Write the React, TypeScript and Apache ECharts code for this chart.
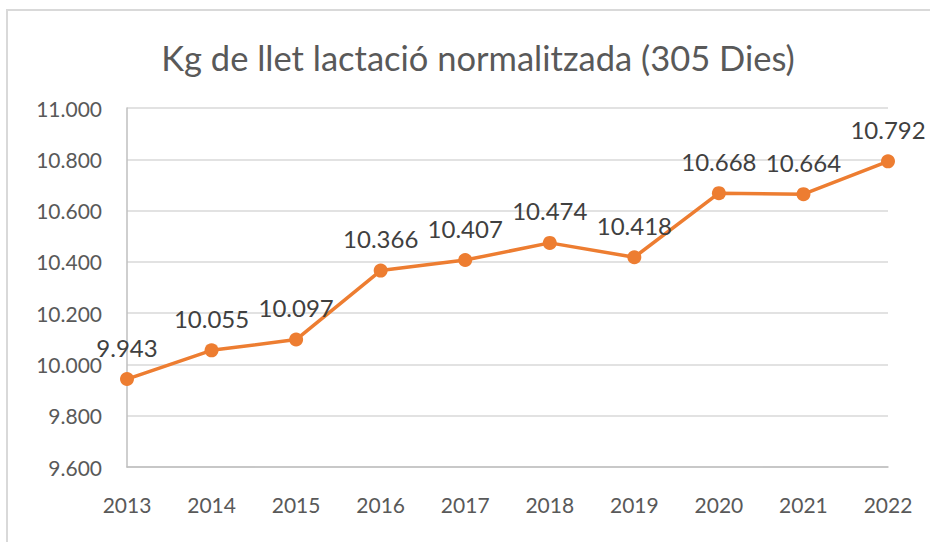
import React, { useEffect, useRef } from "react";
import * as echarts from "echarts";

const categories = ["2013", "2014", "2015", "2016", "2017", "2018", "2019", "2020", "2021", "2022"];
const values = [9943, 10055, 10097, 10366, 10407, 10474, 10418, 10668, 10664, 10792];
const titleText = "Kg de llet lactació normalitzada (305 Dies)";

const fmt = (v: number) => {
  const s = Math.round(v).toString();
  return s.replace(/\B(?=(\d{3})+(?!\d))/g, ".");
};

export default function App() {
  const ref = useRef<HTMLDivElement>(null);
  useEffect(() => {
    document.body.style.margin = "0";
    const chart = echarts.init(ref.current!, undefined, { renderer: "svg" });
    chart.setOption({
      animation: false,
      backgroundColor: "#ffffff",
      textStyle: { fontFamily: "Lato" },
      graphic: [
        {
          type: "rect",
          shape: { x: 7, y: 10, width: 1000, height: 1000 },
          style: { fill: "none", stroke: "#d9d9d9", lineWidth: 2 },
          silent: true,
        },
      ],
      title: {
        text: titleText,
        left: 473,
        top: 35,
        textAlign: "center",
        textStyle: { fontFamily: "Lato", fontSize: 34.5, fontWeight: "normal", color: "#595959" },
      },
      grid: { left: 127, right: 42, top: 108, bottom: 75 },
      xAxis: {
        type: "category",
        data: categories,
        boundaryGap: false,
        axisLine: { lineStyle: { color: "#bfbfbf", width: 1.5 } },
        axisTick: { show: false },
        axisLabel: { color: "#595959", fontSize: 21, margin: 27, fontFamily: "Lato" },
        splitLine: { show: false },
      },
      yAxis: {
        type: "value",
        min: 9600,
        max: 11000,
        interval: 200,
        axisLine: { show: true, lineStyle: { color: "#bfbfbf", width: 1.5 } },
        axisTick: { show: false },
        axisLabel: { color: "#595959", fontSize: 21, margin: 25, fontFamily: "Lato", formatter: (v: number) => fmt(v) },
        splitLine: { lineStyle: { color: "#d9d9d9", width: 1.5 } },
      },
      series: [
        {
          type: "line",
          data: values,
          symbol: "circle",
          symbolSize: 14,
          itemStyle: { color: "#ED7D31" },
          lineStyle: { color: "#ED7D31", width: 3.5 },
          label: {
            show: true,
            position: "top",
            distance: 13,
            color: "#404040",
            fontSize: 24,
            fontFamily: "Lato",
            formatter: (p: any) => fmt(p.value),
          },
        },
      ],
    });
    return () => chart.dispose();
  }, []);
  return <div ref={ref} style={{ width: 930, height: 542 }} />;
}
